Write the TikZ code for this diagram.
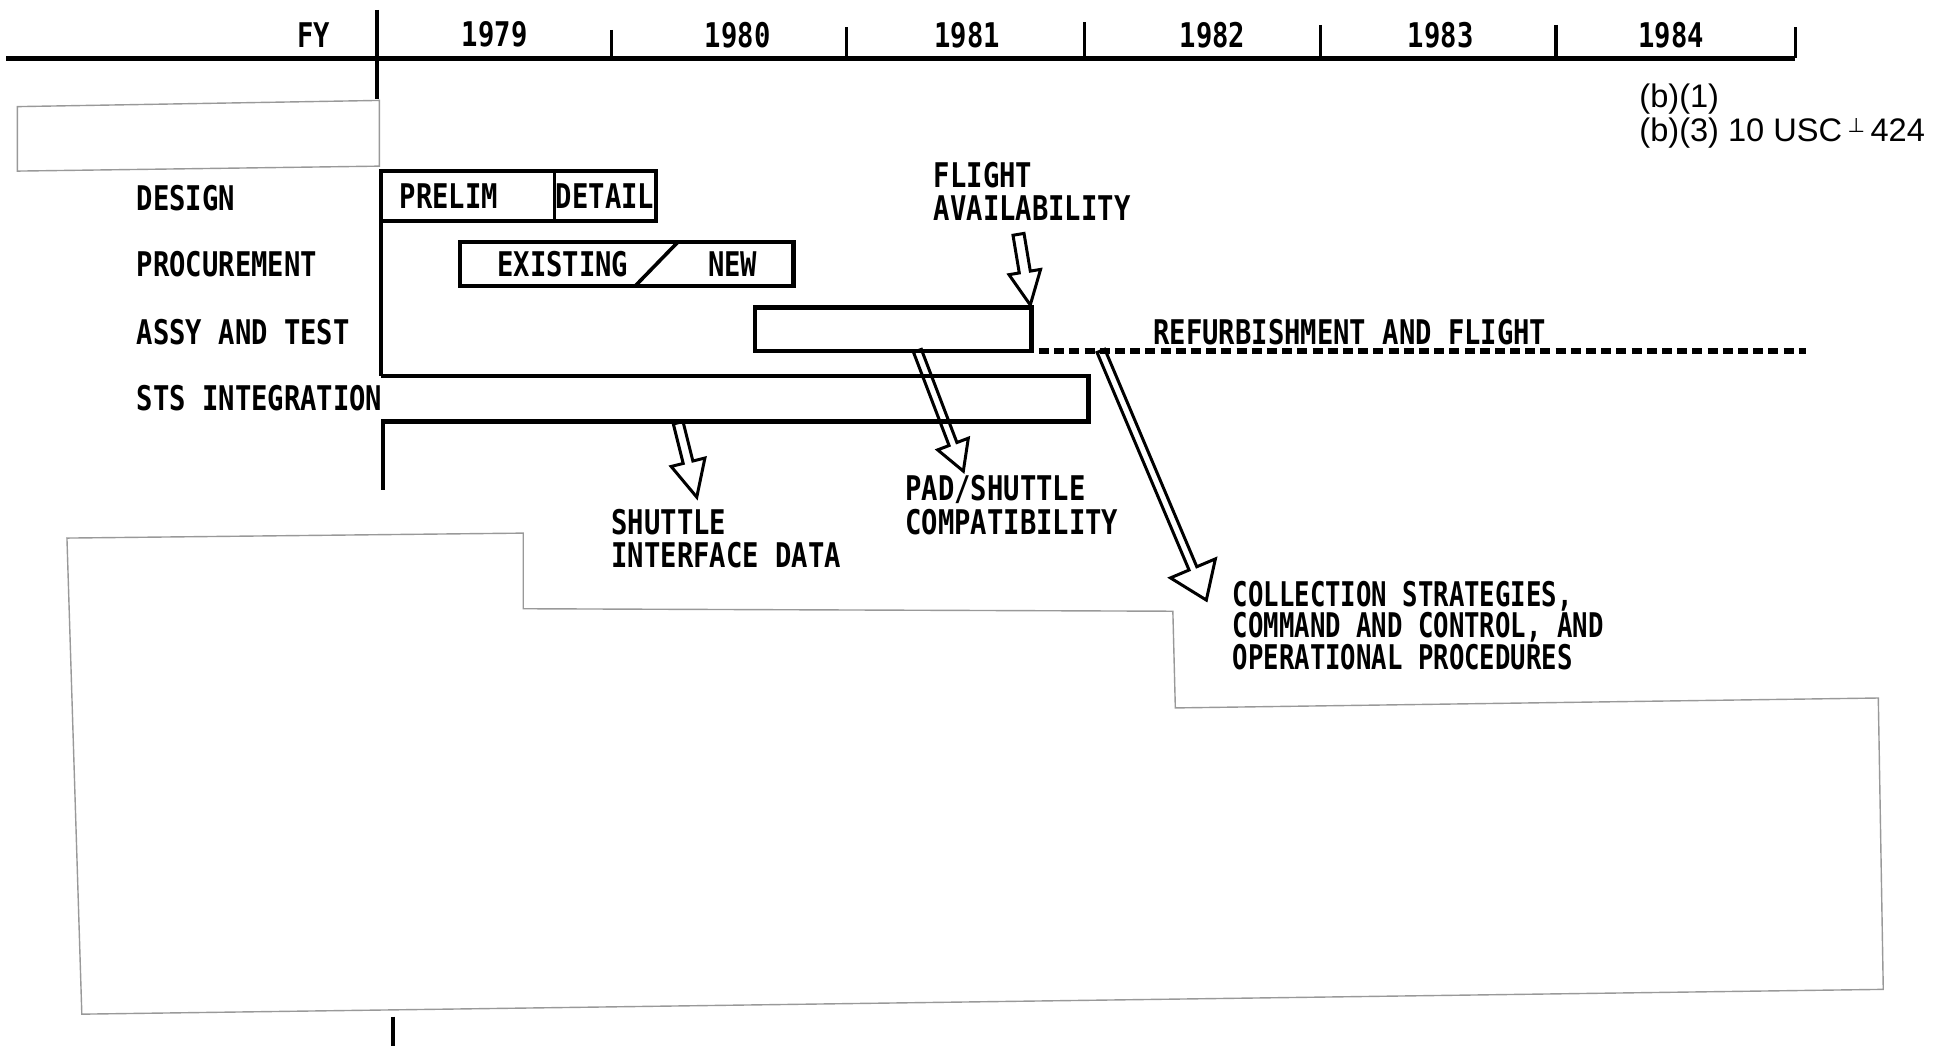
\documentclass[tikz,border=0pt]{standalone}
\usepackage{fontspec}
\usetikzlibrary{calc}
\newfontfamily\lpfont[FakeStretch=0.80]{DejaVu Sans Mono}
\newfontfamily\lpnarrow[FakeStretch=0.755]{DejaVu Sans Mono}
\newfontfamily\symfont{DejaVu Sans}
\setmainfont{Liberation Sans}
\tikzset{
  lp/.style={font=\lpfont\bfseries\fontsize{17}{16.7}\selectfont, inner sep=0pt},
  lpn/.style={font=\lpnarrow\bfseries\fontsize{17}{15.8}\selectfont, inner sep=0pt, anchor=west, align=left},
  barline/.style={line width=2.1pt, line join=miter},
  axisline/.style={line width=2.6pt},
  tickline/.style={line width=1.6pt},
  redact/.style={draw=black!40, line width=0.7pt},
  arrowline/.style={line width=1.5pt, line join=miter},
  refdash/.style={line width=2.8pt, dash pattern=on 5pt off 2.6pt},
  note/.style={font=\fontsize{16.3}{19}\selectfont, inner sep=0pt, anchor=west}
}
% hollow block arrow: start, tip, shaft half width, head half width, head length
\newcommand\hollowarrow[5]{%
  \coordinate (hb) at ($(#2)!#5!(#1)$);
  \draw[arrowline] ($(#1)!#3!90:(#2)$) -- ($(hb)!#3!90:(#2)$) -- ($(hb)!#4!90:(#2)$)
    -- (#2) -- ($(hb)!#4!-90:(#2)$) -- ($(hb)!#3!-90:(#2)$) -- ($(#1)!#3!-90:(#2)$) -- cycle;}
\begin{document}
\begin{tikzpicture}[x=0.62pt,y=-0.62pt]
\useasboundingbox (0,0) rectangle (1568,844);
% time axis
\draw[axisline] (5,47) -- (1448,47);
\draw[tickline] (304,8) -- (304,80);
\foreach \tx/\ty in {493/24,683/22,875/18,1065/20,1255/20,1448/22}
  \draw[tickline] (\tx,\ty) -- (\tx,47);
\node[lp] (fy) at (253,28) {FY};
\node[lp] (y79) at (399,28) {1979};
\node[lp] (y80) at (595,28) {1980};
\node[lp] (y81) at (780,28) {1981};
\node[lp] (y82) at (978,28) {1982};
\node[lp] (y83) at (1162,28) {1983};
\node[lp] (y84) at (1348,28) {1984};
% exemption note
\node[note] (n1) at (1322,80) {(b)(1)};
\node[note] (n2) at (1322,107) {(b)(3) 10 USC\,{\symfont\fontsize{10}{10}\selectfont\raisebox{0.45em}{⊥}}\,424};
% redactions
\draw[redact] (14,86) -- (306,81) -- (306,134) -- (14,138) -- cycle;
\draw[redact] (54,434) -- (422,430) -- (422,491) -- (946,493) -- (948,571)
  -- (1515,563) -- (1519,798) -- (66,818) -- cycle;
% row labels
\node[lp,anchor=west] (ldes) at (110,160) {DESIGN};
\node[lp,anchor=west] (lpro) at (110,213) {PROCUREMENT};
\node[lp,anchor=west] (lass) at (110,268) {ASSY AND TEST};
\node[lp,anchor=west] (lsts) at (110,321) {STS INTEGRATION};
% left frame line
\draw[barline] (307,138) -- (307,303);
\draw[barline] (309,340) -- (309,395);
\draw[tickline] (317,820) -- (317,844);
% design bar
\draw[barline] (307,138) rectangle (529,178);
\draw[line width=1.4pt] (447,138) -- (447,178);
\node[lp] (prelim) at (362,158) {PRELIM};
\node[lp] (detail) at (488,158) {DETAIL};
% procurement bar
\draw[barline] (371,195) rectangle (640,231);
\draw[line width=1.8pt] (512,231) -- (547,195);
\node[lp] (exist) at (454,213) {EXISTING};
\node[lp] (new) at (591,213) {NEW};
% assy and test bar
\draw[barline] (609,248) rectangle (832,283);
\draw[refdash] (838,283) -- (1457,283);
\node[lp,anchor=west] (refurb) at (930,268) {REFURBISHMENT AND FLIGHT};
% sts bar
\draw[barline] (307,303) -- (878,303) -- (878,340) -- (307,340);
% labels
\node[lp,anchor=west,align=left] (flt) at (753,154.5) {FLIGHT\\AVAILABILITY};
\node[lp,anchor=west,align=left] (sid) at (493,434.5) {SHUTTLE\\INTERFACE DATA};
\node[lp,anchor=west,align=left] (pad) at (730,407.5) {PAD/SHUTTLE\\COMPATIBILITY};
\node[lpn] (coll) at (994,504.5) {COLLECTION STRATEGIES,\\COMMAND AND CONTROL, AND\\OPERATIONAL PROCEDURES};
% arrows
\coordinate (fa0) at (821.5,189);
\coordinate (fa1) at (831,246);
\hollowarrow{fa0}{fa1}{2.8pt}{8pt}{16.7pt}
\coordinate (si0) at (547,341);
\coordinate (si1) at (562,401);
\hollowarrow{si0}{si1}{2.5pt}{8.7pt}{18pt}
\coordinate (pa0) at (740,283);
\coordinate (pa1) at (777,380);
\hollowarrow{pa0}{pa1}{2.1pt}{8.2pt}{14.5pt}
\coordinate (co0) at (888,283);
\coordinate (co1) at (973,484);
\hollowarrow{co0}{co1}{2.1pt}{12.2pt}{17.2pt}
\end{tikzpicture}
\end{document}
